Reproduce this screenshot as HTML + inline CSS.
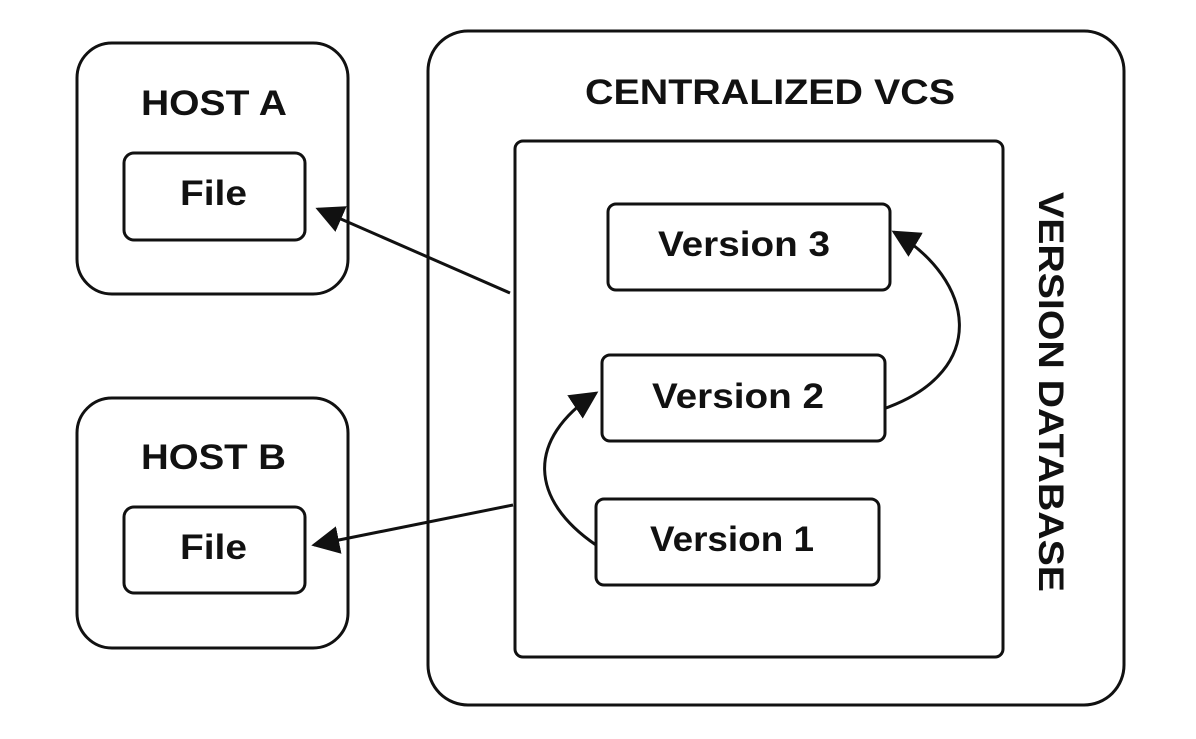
<!DOCTYPE html>
<html><head><style>
html,body{margin:0;padding:0;background:#fff}
svg text{font-family:"Liberation Sans",sans-serif;font-weight:bold;fill:#111}
</style></head><body>
<svg width="1196" height="734" viewBox="0 0 1196 734" xmlns="http://www.w3.org/2000/svg">
<defs>
<marker id="b" viewBox="0 0 10 10" refX="9" refY="5" markerWidth="28" markerHeight="28" markerUnits="userSpaceOnUse" orient="auto"><path d="M0,0 L10,5 L0,10 z" fill="#111"/></marker></defs>
<g fill="none" stroke="#111" stroke-width="3">
<rect x="77" y="43" width="271" height="251" rx="35"/>
<rect x="124" y="153" width="181" height="87" rx="10"/>
<rect x="77" y="398" width="271" height="250" rx="35"/>
<rect x="124" y="507" width="181" height="86" rx="10"/>
<rect x="428" y="31" width="696" height="674" rx="40"/>
<rect x="515" y="141" width="488" height="516" rx="8"/>
<rect x="608" y="204" width="282" height="86" rx="8"/>
<rect x="602" y="355" width="283" height="86" rx="8"/>
<rect x="596" y="499" width="283" height="86" rx="8"/>
<path d="M510,293 L318,209" marker-end="url(#b)"/>
<path d="M513,505 L314,545" marker-end="url(#b)"/>
<path d="M596,545 C530,500 525,440 596,393" marker-end="url(#b)"/>
<path d="M886,408 C990,370 975,280 894,232" marker-end="url(#b)"/>
</g>
<text x="141" y="115" font-size="35" textLength="146" lengthAdjust="spacingAndGlyphs">HOST A</text>
<text x="180" y="205" font-size="35" textLength="67" lengthAdjust="spacingAndGlyphs">File</text>
<text x="141" y="469" font-size="35" textLength="145" lengthAdjust="spacingAndGlyphs">HOST B</text>
<text x="180" y="559" font-size="35" textLength="67" lengthAdjust="spacingAndGlyphs">File</text>
<text x="585" y="104" font-size="35" textLength="370" lengthAdjust="spacingAndGlyphs">CENTRALIZED VCS</text>
<text x="658" y="256" font-size="35" textLength="172" lengthAdjust="spacingAndGlyphs">Version 3</text>
<text x="652" y="408" font-size="35" textLength="172" lengthAdjust="spacingAndGlyphs">Version 2</text>
<text x="650" y="551" font-size="35" textLength="164" lengthAdjust="spacingAndGlyphs">Version 1</text>
<text transform="translate(1039,192) rotate(90)" font-size="35" textLength="400" lengthAdjust="spacingAndGlyphs">VERSION DATABASE</text>
</svg>
</body></html>
